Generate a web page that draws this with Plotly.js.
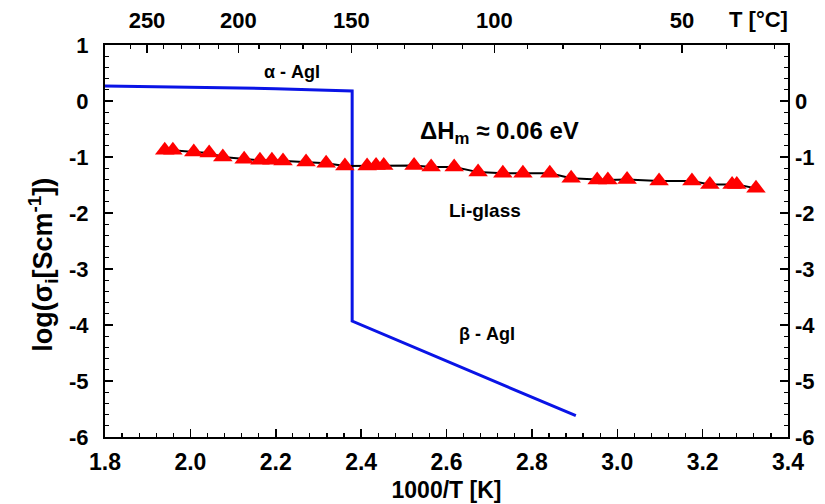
<!DOCTYPE html>
<html>
<head>
<meta charset="utf-8">
<script src="https://cdn.plot.ly/plotly-3.0.1.min.js"></script>
<style>html,body{margin:0;padding:0;background:#fff;}#chart{width:825px;height:504px;}</style>
</head>
<body>
<div id="chart"></div>
<script>
// alpha/beta AgI (blue)
const agiX = [1.80, 2.00, 2.20, 2.32, 2.379, 2.379, 2.903];
const agiY = [0.27, 0.25, 0.22, 0.19, 0.18, -3.93, -5.62];

// Li-glass (red triangles + black line)
const liX = [1.940, 1.959, 2.008, 2.044, 2.076, 2.126, 2.163, 2.191, 2.217, 2.271, 2.318, 2.362,
             2.414, 2.435, 2.453, 2.524, 2.564, 2.618, 2.674, 2.732, 2.779, 2.842, 2.892, 2.953,
             2.978, 3.023, 3.098, 3.175, 3.217, 3.269, 3.280, 3.325];
const liY = [-0.88, -0.88, -0.91, -0.93, -1.00, -1.04, -1.06, -1.06, -1.07, -1.09, -1.11, -1.16,
             -1.16, -1.15, -1.15, -1.15, -1.18, -1.18, -1.27, -1.29, -1.29, -1.29, -1.38, -1.41,
             -1.41, -1.40, -1.43, -1.43, -1.49, -1.49, -1.49, -1.56];

// axis ticks
const bottomTicks = [1.8, 2.0, 2.2, 2.4, 2.6, 2.8, 3.0, 3.2, 3.4];
const leftTicks = [1, 0, -1, -2, -3, -4, -5, -6];
const rightTicks = [0, -1, -2, -3, -4, -5, -6];
// top temperature axis (°C)
const topMajorC = [250, 200, 150, 100, 50];
const topMinorC = [260, 240, 230, 220, 210, 190, 180, 170, 160, 140, 130, 120, 110, 90, 80, 70, 60, 40, 30];

const toInvT = c => 1000 / (c + 273.15);

const fB = 'Liberation Sans, Arial, sans-serif';

const traces = [
  {x: agiX, y: agiY, mode: 'lines', line: {color: '#0a14e6', width: 3}, hoverinfo: 'none', showlegend: false},
  {x: liX, y: liY, mode: 'lines+markers', line: {color: '#000', width: 2},
   marker: {symbol: 'triangle-up', size: 17, color: '#ff0000', line: {width: 0}}, showlegend: false},
  {x: [], y: [], xaxis: 'x2', yaxis: 'y2', showlegend: false, hoverinfo: 'none'}
];

const tickFontY = {family: fB, size: 22, color: '#000', weight: 700};
const tickFontX = {family: fB, size: 23, color: '#000', weight: 700};
const tickFontT = {family: fB, size: 22, color: '#000', weight: 700};

const layout = {
  width: 825, height: 504,
  margin: {l: 105, r: 37, t: 45, b: 67},
  paper_bgcolor: '#fff', plot_bgcolor: '#fff',
  showlegend: false,
  xaxis: {
    range: [1.8, 3.4], tickmode: 'array', tickvals: bottomTicks, ticktext: bottomTicks.map(v => v.toFixed(1)),
    ticks: 'inside', ticklen: 8, tickwidth: 1.5, tickcolor: '#000',
    minor: {dtick: 0.04, tick0: 1.8, ticks: 'inside', ticklen: 4, tickwidth: 1.2, tickcolor: '#000'},
    showline: true, linewidth: 2, linecolor: '#000', mirror: true,
    showgrid: false, zeroline: false, tickfont: tickFontX, ticklabelstandoff: 3,
    title: {text: '1000/T [K]', font: {family: fB, size: 23, color: '#000', weight: 700}, standoff: 8}
  },
  xaxis2: {
    overlaying: 'x', side: 'top', anchor: 'y', range: [1.8186, 3.3290],
    tickmode: 'array', tickvals: topMajorC.map(toInvT), ticktext: topMajorC.map(String),
    ticks: 'inside', ticklen: 8, tickwidth: 1.5, tickcolor: '#000',
    minor: {tickmode: 'array', tickvals: topMinorC.map(toInvT), ticks: 'inside', ticklen: 4, tickwidth: 1.2, tickcolor: '#000'},
    showline: false, showgrid: false, zeroline: false, tickfont: tickFontT, ticklabelstandoff: 12
  },
  yaxis: {
    range: [-6, 1], tickmode: 'array', tickvals: leftTicks, ticktext: leftTicks.map(String),
    ticks: 'inside', ticklen: 8, tickwidth: 1.5, tickcolor: '#000',
    minor: {dtick: 0.2, tick0: 0, ticks: 'inside', ticklen: 4, tickwidth: 1.2, tickcolor: '#000'},
    showline: true, linewidth: 2, linecolor: '#000', mirror: true,
    showgrid: false, zeroline: false, tickfont: tickFontY, ticklabelstandoff: 10
  },
  yaxis2: {
    overlaying: 'y', side: 'right', anchor: 'x', range: [-6, 1],
    tickmode: 'array', tickvals: rightTicks, ticktext: rightTicks.map(String),
    ticks: 'inside', ticklen: 8, tickwidth: 1.5, tickcolor: '#000',
    minor: {dtick: 0.2, tick0: 0, ticks: 'inside', ticklen: 4, tickwidth: 1.2, tickcolor: '#000'},
    showline: false, showgrid: false, zeroline: false, tickfont: tickFontY, ticklabelstandoff: 6
  },
  annotations: [
    {xref: 'paper', yref: 'paper', x: -0.092, y: 0.44, xanchor: 'center', yanchor: 'middle',
     text: 'log(σ<sub>i</sub>[Scm<sup>-1</sup>])',
     textangle: -90, showarrow: false, font: {family: fB, size: 27, color: '#000', weight: 700}},
    {xref: 'paper', yref: 'paper', x: 0.957, y: 1.064, xanchor: 'center', yanchor: 'middle', text: 'T [°C]', showarrow: false,
     font: {family: fB, size: 22, color: '#000', weight: 700}},
    {x: 2.238, y: 0.518, text: 'α - AgI', showarrow: false, font: {family: fB, size: 18, color: '#000', weight: 700}},
    {x: 2.725, y: -0.554, text: 'ΔH<sub>m</sub> ≈ 0.06 eV', showarrow: false, font: {family: fB, size: 24, color: '#000', weight: 700}},
    {x: 2.69, y: -1.964, text: 'Li-glass', showarrow: false, font: {family: fB, size: 19, color: '#000', weight: 700}},
    {x: 2.695, y: -4.16, text: 'β - AgI', showarrow: false, font: {family: fB, size: 18, color: '#000', weight: 700}}
  ]
};

Plotly.newPlot('chart', traces, layout, {staticPlot: true, displayModeBar: false});
</script>
</body>
</html>
